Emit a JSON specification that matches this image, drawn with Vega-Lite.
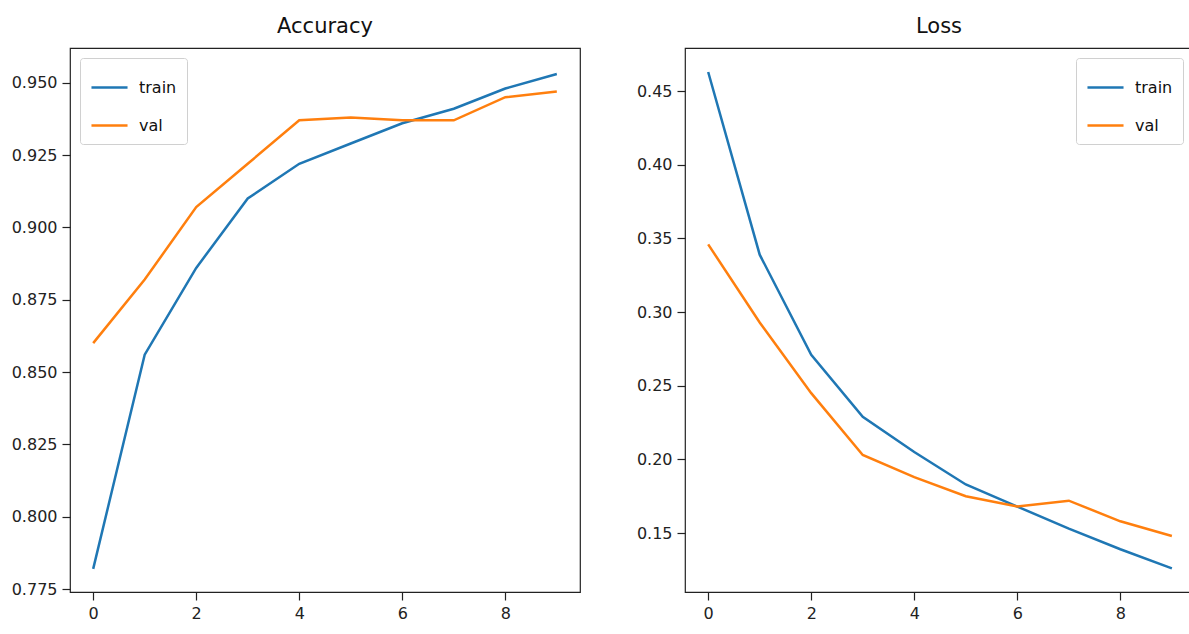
{
  "$schema": "https://vega.github.io/schema/vega-lite/v6.json",
  "background": "white",
  "padding": {"left": 8, "top": 15, "right": 0, "bottom": 0},
  "spacing": 54,
  "datasets": {
    "acc": [
      {"epoch": 0, "split": "train", "value": 0.782},
      {"epoch": 1, "split": "train", "value": 0.856},
      {"epoch": 2, "split": "train", "value": 0.886},
      {"epoch": 3, "split": "train", "value": 0.910},
      {"epoch": 4, "split": "train", "value": 0.922},
      {"epoch": 5, "split": "train", "value": 0.929},
      {"epoch": 6, "split": "train", "value": 0.936},
      {"epoch": 7, "split": "train", "value": 0.941},
      {"epoch": 8, "split": "train", "value": 0.948},
      {"epoch": 9, "split": "train", "value": 0.953},
      {"epoch": 0, "split": "val", "value": 0.860},
      {"epoch": 1, "split": "val", "value": 0.882},
      {"epoch": 2, "split": "val", "value": 0.907},
      {"epoch": 3, "split": "val", "value": 0.922},
      {"epoch": 4, "split": "val", "value": 0.937},
      {"epoch": 5, "split": "val", "value": 0.938},
      {"epoch": 6, "split": "val", "value": 0.937},
      {"epoch": 7, "split": "val", "value": 0.937},
      {"epoch": 8, "split": "val", "value": 0.945},
      {"epoch": 9, "split": "val", "value": 0.947}
    ],
    "loss": [
      {"epoch": 0, "split": "train", "value": 0.463},
      {"epoch": 1, "split": "train", "value": 0.339},
      {"epoch": 2, "split": "train", "value": 0.271},
      {"epoch": 3, "split": "train", "value": 0.229},
      {"epoch": 4, "split": "train", "value": 0.205},
      {"epoch": 5, "split": "train", "value": 0.183},
      {"epoch": 6, "split": "train", "value": 0.168},
      {"epoch": 7, "split": "train", "value": 0.153},
      {"epoch": 8, "split": "train", "value": 0.139},
      {"epoch": 9, "split": "train", "value": 0.126},
      {"epoch": 0, "split": "val", "value": 0.346},
      {"epoch": 1, "split": "val", "value": 0.293},
      {"epoch": 2, "split": "val", "value": 0.245},
      {"epoch": 3, "split": "val", "value": 0.203},
      {"epoch": 4, "split": "val", "value": 0.188},
      {"epoch": 5, "split": "val", "value": 0.175},
      {"epoch": 6, "split": "val", "value": 0.168},
      {"epoch": 7, "split": "val", "value": 0.172},
      {"epoch": 8, "split": "val", "value": 0.158},
      {"epoch": 9, "split": "val", "value": 0.148}
    ]
  },
  "config": {
    "font": "DejaVu Sans",
    "view": {"stroke": "#222", "strokeWidth": 1.2},
    "axis": {
      "grid": false,
      "domain": false,
      "tickColor": "#222",
      "tickSize": 8,
      "tickWidth": 1.2,
      "labelFontSize": 16,
      "labelColor": "#222",
      "labelFont": "DejaVu Sans",
      "title": null
    },
    "axisX": {"labelPadding": 5},
    "axisY": {"labelPadding": 5},
    "title": {"fontSize": 21, "fontWeight": "normal", "color": "#111", "offset": 11, "font": "DejaVu Sans"},
    "legend": {
      "title": null,
      "symbolType": "stroke",
      "symbolSize": 1300,
      "symbolStrokeWidth": 2.5,
      "labelFontSize": 16,
      "labelColor": "#111",
      "labelOffset": 10,
      "rowPadding": 10,
      "padding": 10,
      "strokeColor": "#d0d0d0",
      "fillColor": "rgba(255,255,255,0.85)",
      "cornerRadius": 3,
      "offset": 10
    }
  },
  "resolve": {"scale": {"color": "independent"}, "legend": {"color": "independent"}},
  "hconcat": [
    {
      "width": 510,
      "height": 544,
      "title": "Accuracy",
      "data": {"name": "acc"},
      "mark": {"type": "line", "strokeWidth": 2.5},
      "encoding": {
        "x": {
          "field": "epoch", "type": "quantitative",
          "scale": {"domain": [-0.45, 9.45], "nice": false, "zero": false},
          "axis": {"values": [0, 2, 4, 6, 8], "format": "d"}
        },
        "y": {
          "field": "value", "type": "quantitative",
          "scale": {"domain": [0.774, 0.962], "nice": false, "zero": false},
          "axis": {"values": [0.775, 0.8, 0.825, 0.85, 0.875, 0.9, 0.925, 0.95], "format": ".3f", "minExtent": 61, "maxExtent": 61}
        },
        "color": {
          "field": "split", "type": "nominal",
          "scale": {"domain": ["train", "val"], "range": ["#1f77b4", "#ff7f0e"]},
          "legend": {"orient": "top-left"}
        }
      }
    },
    {
      "width": 508,
      "height": 544,
      "title": "Loss",
      "data": {"name": "loss"},
      "mark": {"type": "line", "strokeWidth": 2.5},
      "encoding": {
        "x": {
          "field": "epoch", "type": "quantitative",
          "scale": {"domain": [-0.45, 9.41], "nice": false, "zero": false},
          "axis": {"values": [0, 2, 4, 6, 8], "format": "d"}
        },
        "y": {
          "field": "value", "type": "quantitative",
          "scale": {"domain": [0.11, 0.4793], "nice": false, "zero": false},
          "axis": {"values": [0.15, 0.2, 0.25, 0.3, 0.35, 0.4, 0.45], "format": ".2f", "minExtent": 48, "maxExtent": 48}
        },
        "color": {
          "field": "split", "type": "nominal",
          "scale": {"domain": ["train", "val"], "range": ["#1f77b4", "#ff7f0e"]},
          "legend": {"orient": "top-right"}
        }
      }
    }
  ]
}
